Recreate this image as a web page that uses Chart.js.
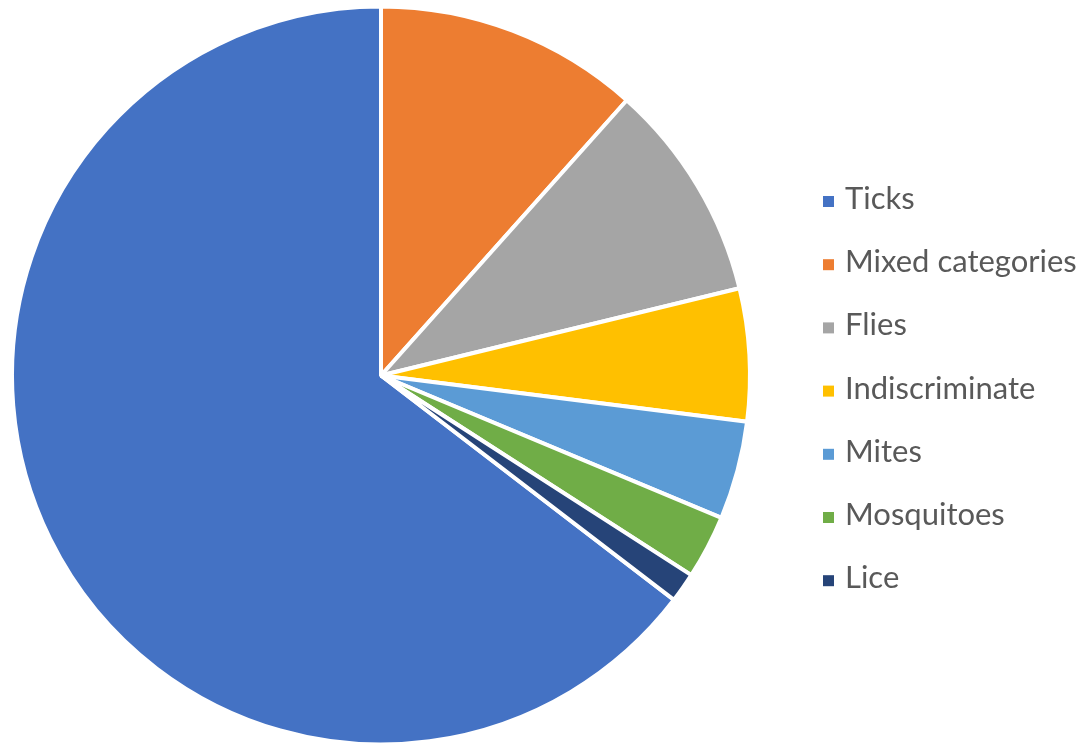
<!DOCTYPE html>
<html>
<head>
<meta charset="utf-8">
<script src="https://cdn.jsdelivr.net/npm/chart.js@4"></script>
<style>
  html, body { margin: 0; padding: 0; background: #fff; }
  #wrap { width: 1082px; height: 747px; }
</style>
</head>
<body>
<div id="wrap"><canvas id="pieChart" width="1082" height="747"></canvas></div>
<script>
// shares in percent
const categories = ["Ticks", "Mixed categories", "Flies", "Indiscriminate", "Mites", "Mosquitoes", "Lice"];
const shares = [64.6, 11.6, 9.6, 5.8, 4.3, 2.8, 1.3];
const colors = ["#4472C4", "#ED7D31", "#A5A5A5", "#FFC000", "#5B9BD5", "#70AD47", "#264478"];

// Ticks is drawn so that it ends at 12 o'clock
let total = shares.reduce((a, b) => a + b, 0);
let startAngle = 360 - shares[0] / total * 360;

// legend drawn by hand so it sits where the original one is
const sideLegend = {
  id: "sideLegend",
  afterDraw(chart) {
    const ctx = chart.ctx;
    ctx.save();
    ctx.font = "31px Lato";
    ctx.textBaseline = "alphabetic";
    chart.data.labels.forEach((label, i) => {
      let base = 209 + i * 63.2;
      ctx.fillStyle = colors[i];
      ctx.fillRect(823, base - 13, 11, 11);
      ctx.fillStyle = "#595959";
      ctx.fillText(label, 845, base);
    });
    ctx.restore();
  }
};

const ctx = document.getElementById("pieChart").getContext("2d");
const chart = new Chart(ctx, {
  type: "pie",
  data: {
    labels: categories,
    datasets: [{
      data: shares,
      backgroundColor: colors,
      borderColor: "#ffffff",
      borderWidth: 4,
    }],
  },
  options: {
    responsive: false,
    animation: false,
    rotation: startAngle,
    layout: { padding: { left: 10, right: 330, top: 4, bottom: 0 } },
    plugins: {
      legend: { display: false },
      tooltip: { enabled: false },
    },
  },
  plugins: [sideLegend],
});
</script>
</body>
</html>
